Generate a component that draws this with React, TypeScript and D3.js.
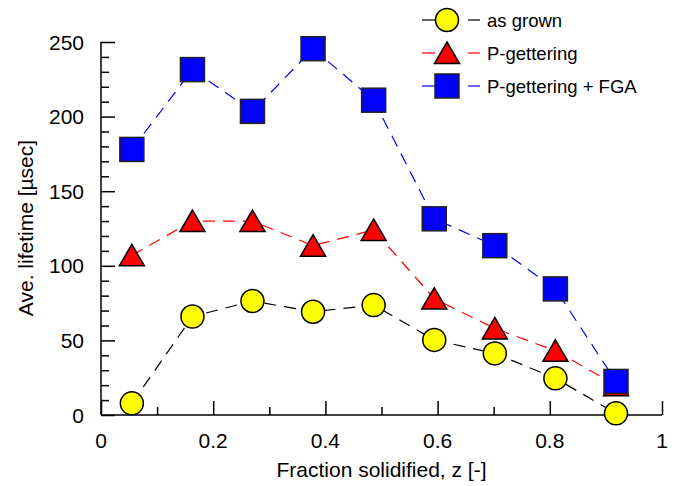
import React, { useEffect, useRef } from 'react';
import * as d3 from 'd3';

const zValues = [0.055, 0.163, 0.27, 0.378, 0.486, 0.594, 0.702, 0.81, 0.918];
const asGrown = [7.8, 66, 76.4, 69.2, 73.7, 50.3, 41.3, 24.6, 1.1];
const pGettering = [107, 130, 130, 113.5, 124, 78, 58, 43, 20];
const pGetteringFGA = [178, 231.5, 203.5, 245.5, 211, 131.5, 113.5, 84.5, 22.5];
const xTicks = [0, 0.2, 0.4, 0.6, 0.8, 1];
const yTicks = [0, 50, 100, 150, 200, 250];
const seriesNames = ['as grown', 'P-gettering', 'P-gettering + FGA'];

const W = 677;
const H = 486;
const FONT = '"Liberation Sans", Arial, sans-serif';

const App = () => {
  const ref = useRef<SVGSVGElement>(null);

  useEffect(() => {
    const svg = d3.select(ref.current);
    svg.selectAll('*').remove();

    const x = d3.scaleLinear().domain([0, 1]).range([101, 662]);
    const y = d3.scaleLinear().domain([0, 250]).range([415, 42]);

    // axes, ticks pointing inward
    const gx = svg.append('g').attr('transform', `translate(0,${y(0)})`);
    gx.call(
      d3.axisTop(x).tickValues(d3.range(0, 1.0001, 0.1)).tickSize(8).tickFormat(() => '')
    );
    gx.selectAll('.tick line')
      .filter((d: any) => xTicks.some(t => Math.abs(t - d) < 1e-6))
      .attr('y2', -14);
    gx.select('.domain').attr('d', `M${x(0)},0H${x(1)}`);
    gx.selectAll('line, path').attr('stroke', '#000').attr('stroke-width', 1.5);

    const gy = svg.append('g').attr('transform', `translate(${x(0)},0)`);
    gy.call(d3.axisRight(y).tickValues(d3.range(0, 251, 10)).tickSize(8).tickFormat(() => ''));
    gy.selectAll('.tick line')
      .filter((d: any) => d % 50 === 0)
      .attr('x2', 14);
    gy.select('.domain').attr('d', `M0,${y(0)}V${y(250)}`);
    gy.selectAll('line, path').attr('stroke', '#000').attr('stroke-width', 1.5);

    svg.append('g').selectAll('text').data(xTicks).join('text')
      .attr('x', d => x(d)).attr('y', 448)
      .attr('text-anchor', 'middle')
      .attr('font-size', 21).attr('font-family', FONT)
      .text(d => String(d));

    svg.append('g').selectAll('text').data(yTicks).join('text')
      .attr('x', 84).attr('y', d => y(d))
      .attr('text-anchor', 'end').attr('dy', '0.36em')
      .attr('font-size', 21).attr('font-family', FONT)
      .text(d => String(d));

    svg.append('text')
      .attr('x', (x(0) + x(1)) / 2).attr('y', 477)
      .attr('text-anchor', 'middle')
      .attr('font-size', 21).attr('font-family', FONT)
      .text('Fraction solidified, z [-]');

    svg.append('text')
      .attr('transform', 'translate(33,228) rotate(-90)')
      .attr('text-anchor', 'middle')
      .attr('font-size', 21).attr('font-family', FONT)
      .text('Ave. lifetime [µsec]');

    const series = [
      { name: seriesNames[0], values: asGrown, color: '#000', fill: '#ffff00', shape: 'circle' },
      { name: seriesNames[1], values: pGettering, color: '#ff0000', fill: '#ff0000', shape: 'triangle' },
      { name: seriesNames[2], values: pGetteringFGA, color: '#0000ff', fill: '#0000ff', shape: 'square' },
    ];

    const line = d3.line<number>().x((d, i) => x(zValues[i])).y(d => y(d));

    const drawMarker = (g: any, shape: string, cx: number, cy: number, fill: string) => {
      if (shape === 'circle') {
        g.append('circle').attr('cx', cx).attr('cy', cy).attr('r', 11.5)
          .attr('fill', fill).attr('stroke', '#000').attr('stroke-width', 1.5);
      } else if (shape === 'triangle') {
        g.append('path')
          .attr('d', `M${cx},${cy - 11}L${cx + 12.5},${cy + 10.5}L${cx - 12.5},${cy + 10.5}Z`)
          .attr('fill', fill).attr('stroke', '#000').attr('stroke-width', 1.5)
          .attr('stroke-linejoin', 'miter');
      } else {
        g.append('rect').attr('x', cx - 12).attr('y', cy - 12).attr('width', 24).attr('height', 24)
          .attr('fill', fill).attr('stroke', '#222').attr('stroke-width', 1.5);
      }
    };

    series.forEach(s => {
      svg.append('path')
        .datum(s.values)
        .attr('d', line)
        .attr('fill', 'none')
        .attr('stroke', s.color)
        .attr('stroke-width', 1.2)
        .attr('stroke-dasharray', '12,8');
    });

    series.forEach(s => {
      const g = svg.append('g');
      s.values.forEach((v, i) => drawMarker(g, s.shape, x(zValues[i]), y(v), s.fill));
    });

    // legend
    const legendY = [20, 53, 86];
    series.forEach((s, i) => {
      const g = svg.append('g');
      const ly = legendY[i];
      g.append('line').attr('x1', 422).attr('x2', 435).attr('y1', ly).attr('y2', ly)
        .attr('stroke', s.color).attr('stroke-width', 1.2);
      g.append('line').attr('x1', 468).attr('x2', 480).attr('y1', ly).attr('y2', ly)
        .attr('stroke', s.color).attr('stroke-width', 1.2);
      drawMarker(g, s.shape, 447, ly, s.fill);
      g.append('text')
        .attr('x', 487).attr('y', ly).attr('dy', '0.36em')
        .attr('font-size', 18.5).attr('font-family', FONT)
        .text(s.name);
    });
  }, []);

  return (
    <svg
      ref={ref}
      width={W}
      height={H}
      style={{ position: 'absolute', left: 0, top: 0, background: '#fff' }}
    />
  );
};

export default App;
